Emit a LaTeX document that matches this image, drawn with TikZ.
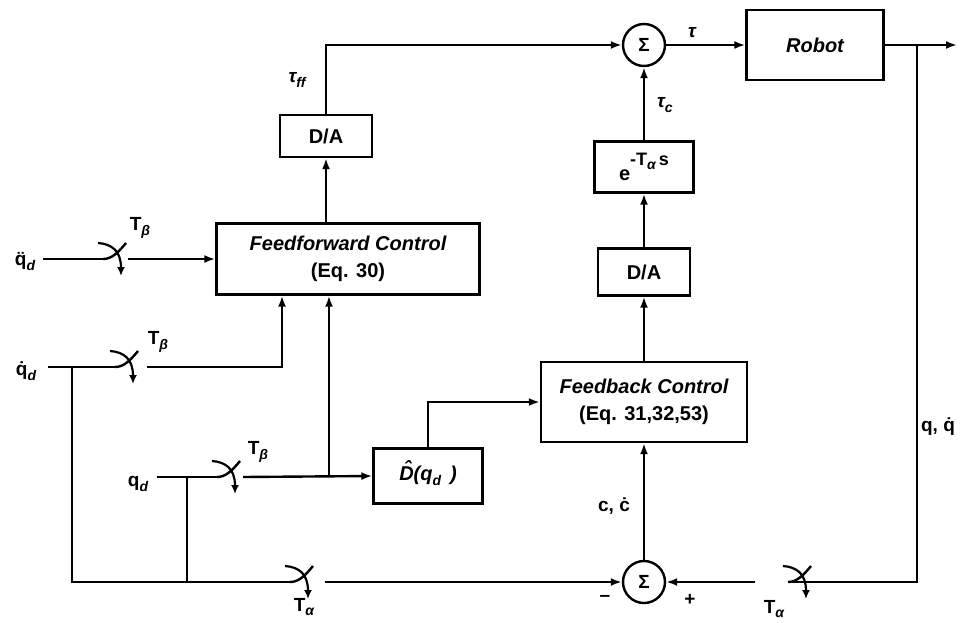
\documentclass[tikz,border=0pt]{standalone}
\usepackage{fontspec}
\setmainfont{Liberation Sans}
\setsansfont{Liberation Sans}
\usetikzlibrary{arrows.meta}
\newcommand\lsub[1]{\raisebox{-0.45ex}{\fontsize{14}{14}\selectfont\itshape #1}}
\newcommand\dotover[1]{\ooalign{#1\cr\hidewidth ˙\hidewidth\cr}}
\newcommand\ddotover[1]{\ooalign{#1\cr\hidewidth ¨\hidewidth\cr}}
\newcommand\hatover[1]{\ooalign{#1\cr\hidewidth\raisebox{0.25em}{\kern0.1em ˆ}\hidewidth\cr}}
\tikzset{
  wire/.style={line width=2.4pt},
  arr/.style={wire, -{Latex[length=11pt,width=8pt]}},
  box/.style={draw, line width=2.4pt, rectangle, inner sep=0pt, align=center,
    font=\bfseries\fontsize{20}{27}\selectfont},
  sumnode/.style={draw, circle, line width=2.4pt, minimum size=42pt, inner sep=0pt,
    font=\bfseries\fontsize{19}{20}\selectfont},
  lbl/.style={inner sep=0pt, font=\bfseries\fontsize{19}{20}\selectfont},
  switch/.pic={
    \draw[wire] (0,0) .. controls (8,0) and (14,-5) .. (23,-16);
    \draw[line width=2.2pt, -{Latex[length=9pt,width=8pt]}] (-5,-16) .. controls (9,-15) and (18,-8) .. (18,17);
  }
}
\begin{document}
\begin{tikzpicture}[x=1pt,y=-1pt]
\useasboundingbox (0,0) rectangle (970,622);
\fill[white] (0,0) rectangle (970,622);

% blocks
\node[box, minimum width=137pt, minimum height=70pt] (robot) at (815,45) {\itshape Robot};
\node[sumnode] (sumT) at (644,45) {Σ};
\node[box, minimum width=99pt, minimum height=51pt] (exp) at (644,167)
  {\raisebox{-8pt}{e}\raisebox{7pt}{\fontsize{18}{18}\selectfont -T\lsub{α}\,s}};
\node[box, minimum width=92pt, minimum height=47pt] (daR) at (644,272) {D/A};
\node[box, minimum width=206pt, minimum height=80pt] (fb) at (644,402) {\itshape Feedback Control\\(Eq. 31,32,53)};
\node[sumnode] (sumB) at (644,582) {Σ};
\node[box, minimum width=92pt, minimum height=42pt] (daL) at (326,136) {D/A};
\node[box, minimum width=263pt, minimum height=71pt] (ff) at (348,259) {\itshape Feedforward Control\\(Eq. 30)};
\node[box, minimum width=109pt, minimum height=55pt] (dh) at (428,476) {\itshape \hatover{D}(q\lsub{d}\, )};

% coordinates
\coordinate (out) at (957,45);
\coordinate (br) at (917,45);
\coordinate (a1) at (43,259);
\coordinate (s1in) at (103,259);
\coordinate (s1out) at (128,259);
\coordinate (a2) at (48,367);
\coordinate (j2) at (72,367);
\coordinate (s2in) at (115,367);
\coordinate (s2out) at (147,367);
\coordinate (k2) at (282,367);
\coordinate (a3) at (157,477);
\coordinate (j3) at (187,477);
\coordinate (s3in) at (217,477);
\coordinate (s3out) at (243,477);
\coordinate (j4) at (329,477);
\coordinate (b1) at (72,582);
\coordinate (b2) at (187,582);
\coordinate (s4in) at (290,582);
\coordinate (s4out) at (325,582);
\coordinate (s5in) at (788,582);
\coordinate (s5out) at (755,582);

% top path
\draw[arr] (daL.north) |- (sumT.west);
\draw[arr] (ff.north -| daL) -- (daL.south);
\draw[arr] (sumT.east) -- (robot.west);
\draw[arr] (robot.east) -- (out);
\draw[wire] (br) |- (s5in);
\draw[arr] (s5out) -- (sumB.east);
\draw[arr] (exp.north) -- (sumT.south);
\draw[arr] (daR.north) -- (exp.south);
\draw[arr] (fb.north) -- (daR.south);
\draw[arr] (sumB.north) -- (fb.south);
\draw[arr] (dh.north) |- (fb.west);

% inputs
\draw[wire] (a1) -- (s1in);
\draw[arr] (s1out) -- (s1out -| ff.west);
\draw[wire] (a2) -- (s2in);
\draw[arr] (s2out) -- (k2) -- (k2 |- ff.south);
\draw[wire] (a3) -- (s3in);
\draw[arr] (s3out) -- (dh.west);
\draw[arr] (j4) -- (j4 |- ff.south);
\draw[wire] (j2) -- (b1) -- (s4in);
\draw[wire] (j3) -- (b2);
\draw[arr] (s4out) -- (sumB.west);

% switches
\pic at (s1in) {switch};
\pic at (s2in) {switch};
\pic at (s3in) {switch};
\pic at (s4in) {switch};
\begin{scope}[shift={(s5in)}, xscale=-1]
  \pic {switch};
\end{scope}

% labels
\node[lbl] (lqdd) at (25,263) {\ddotover{q}\lsub{d}};
\node[lbl] (lqd1) at (26,373) {\dotover{q}\lsub{d}};
\node[lbl] (lqd) at (138,484) {q\lsub{d}};
\node[lbl] (tb1) at (140,228) {T\lsub{β}};
\node[lbl] (tb2) at (158,342) {T\lsub{β}};
\node[lbl] (tb3) at (258,452) {T\lsub{β}};
\node[lbl] (ta1) at (304,607) {T\lsub{α}};
\node[lbl] (ta2) at (774,609) {T\lsub{α}};
\node[lbl] (tff) at (297,80) {\itshape τ\lsub{ff}};
\node[lbl] (tau) at (692,33) {\itshape τ};
\node[lbl] (tc) at (665,105) {\itshape τ\lsub{c}};
\node[lbl] (lqq) at (938,428) {q, \dotover{q}};
\node[lbl] (lcc) at (614,508) {c, \dotover{c}};
\node[lbl] (minus) at (605,598) {--};
\node[lbl] (plus) at (690,600) {+};
\end{tikzpicture}
\end{document}
